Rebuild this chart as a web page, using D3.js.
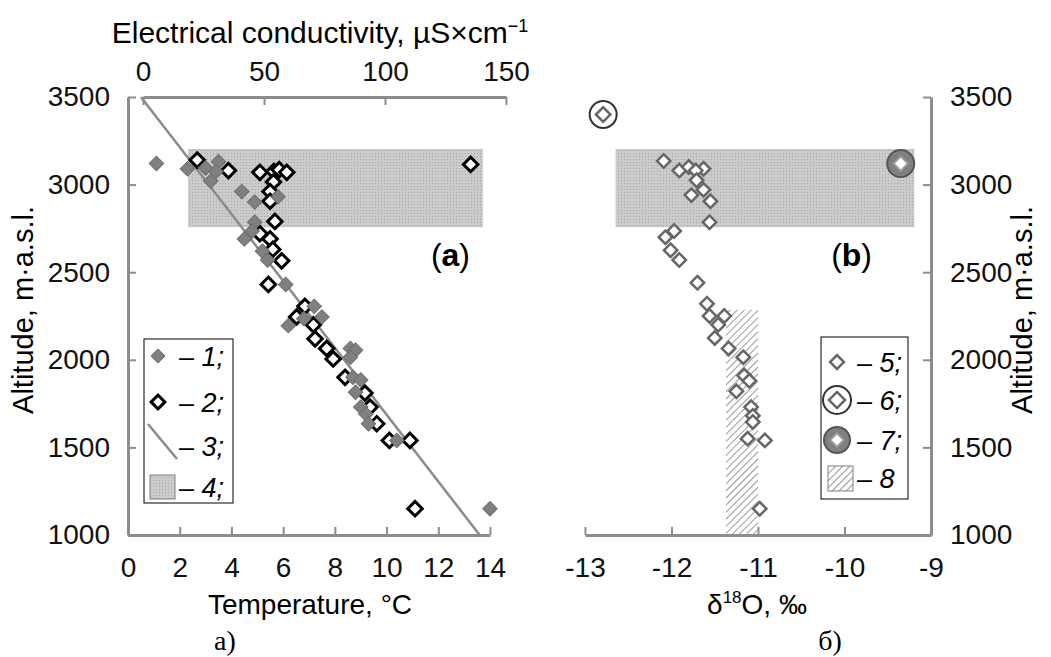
<!DOCTYPE html>
<html>
<head>
<meta charset="utf-8">
<script src="https://cdn.jsdelivr.net/npm/d3@7"></script>
<style>
  html, body { margin: 0; padding: 0; background: #fff; }
  svg { display: block; }
</style>
</head>
<body>
<div class="chart"></div>
<script>
// tick values
const altTicks = [1000, 1500, 2000, 2500, 3000, 3500];
const tempTicks = [0, 2, 4, 6, 8, 10, 12, 14];
const ecTicks = [0, 50, 100, 150];
const d18Ticks = [-13, -12, -11, -10, -9];

// 1 - water temperature, °C
const tempValues = [1.1, 2.3, 3.0, 3.5, 3.4, 3.2, 4.4, 4.9, 5.8, 4.9, 4.8, 4.5, 5.2, 5.4, 6.1, 7.2, 6.8, 7.5, 6.2, 8.6, 8.8, 8.6, 8.7, 9.0, 8.8, 9.0, 9.2, 9.3, 10.4, 14.0];
const tempAlt = [3120, 3090, 3095, 3130, 3075, 3020, 2960, 2900, 2930, 2785, 2735, 2690, 2620, 2570, 2430, 2305, 2235, 2245, 2195, 2065, 2055, 2015, 1900, 1885, 1815, 1730, 1690, 1635, 1540, 1150];

// 2 - electrical conductivity, µS/cm
const ecValues = [22.4, 35.3, 48.3, 54.1, 56.3, 59.4, 53.9, 52.5, 52.5, 54.5, 48.3, 52.5, 53.6, 57.3, 51.8, 66.9, 63.5, 70.4, 71.1, 75.9, 78.6, 83.5, 91.7, 93.8, 96.6, 101.8, 110.3, 112.4, 135.4];
const ecAlt = [3140, 3080, 3070, 3075, 3085, 3070, 3015, 2960, 2905, 2790, 2720, 2690, 2630, 2565, 2430, 2305, 2245, 2200, 2120, 2065, 2005, 1900, 1810, 1730, 1635, 1540, 1540, 1150, 3115];

// 3 - temperature gradient line
const lineTemp = [0.5, 13.6];
const lineAlt = [3500, 1000];

// 4 - zone
const zoneAlt = [2760, 3200];
const zoneTemp = [2.35, 13.7];
const zoneD18 = [-12.64, -9.2];

// 5 - d18O of water
const d18Values = [-12.09, -11.91, -11.80, -11.63, -11.72, -11.71, -11.63, -11.77, -11.55, -11.56, -11.97, -12.07, -12.01, -11.91, -11.70, -11.59, -11.56, -11.39, -11.46, -11.50, -11.34, -11.17, -11.16, -11.10, -11.25, -11.08, -11.06, -11.06, -11.12, -10.92, -10.98];
const d18Alt = [3135, 3080, 3100, 3090, 3080, 3025, 2970, 2940, 2905, 2785, 2735, 2700, 2625, 2570, 2440, 2320, 2250, 2250, 2200, 2125, 2065, 2015, 1910, 1880, 1820, 1730, 1680, 1645, 1550, 1540, 1150];

// 6 and 7 - single samples
const snowD18 = [-12.79];
const snowAlt = [3400];
const rainD18 = [-9.35];
const rainAlt = [3120];

// 8 - band
const bandD18 = [-11.37, -11.0];
const bandAlt = [1000, 2285];

const FONT = "'Liberation Sans', Arial, sans-serif";
const AXIS = "#8c8c8c";

const svg = d3.select(".chart")
  .append("svg")
  .attr("width", 1051)
  .attr("height", 657)
  .style("font-family", FONT);

// patterns
const defs = svg.append("defs");
const dots = defs.append("pattern")
  .attr("id", "dots")
  .attr("width", 3).attr("height", 3)
  .attr("patternUnits", "userSpaceOnUse");
dots.append("rect").attr("width", 3).attr("height", 3).attr("fill", "#cbcbcb");
dots.append("rect").attr("width", 1).attr("height", 1).attr("fill", "#a9a9a9");

const hatch = defs.append("pattern")
  .attr("id", "hatch")
  .attr("width", 5).attr("height", 5)
  .attr("patternUnits", "userSpaceOnUse")
  .attr("patternTransform", "rotate(45)");
hatch.append("rect").attr("width", 5).attr("height", 5).attr("fill", "#fff");
hatch.append("line").attr("x1", 0).attr("y1", 0).attr("x2", 0).attr("y2", 5)
  .attr("stroke", "#9a9a9a").attr("stroke-width", 2);

// scales
const y = d3.scaleLinear().domain([1000, 3500]).range([535, 97]);
const xT = d3.scaleLinear().domain([0, 14]).range([128, 490]);
const xEC = d3.scaleLinear().domain([0, 150]).range([143, 506]);
const xD = d3.scaleLinear().domain([-13, -9]).range([585, 931]);

// diamonds = rotated squares
const diamond = d3.symbol().type(d3.symbolSquare).size(105);
const openDiamond = d3.symbol().type(d3.symbolSquare).size(90);
const legDiamond = d3.symbol().type(d3.symbolSquare).size(95);
const innerDiamond = d3.symbol().type(d3.symbolSquare).size(105);
const plain = d => String(d);

function styleAxis(g) {
  g.attr("font-family", FONT).attr("font-size", 28);
  g.select(".domain").attr("stroke", AXIS).attr("stroke-width", 3);
  g.selectAll(".tick line").attr("stroke", AXIS).attr("stroke-width", 2);
  g.selectAll(".tick text").attr("fill", "#111");
}

// ---------- panel (a) ----------
svg.append("rect")
  .attr("x", xT(zoneTemp[0]))
  .attr("y", y(zoneAlt[1]))
  .attr("width", xT(zoneTemp[1]) - xT(zoneTemp[0]))
  .attr("height", y(zoneAlt[0]) - y(zoneAlt[1]))
  .attr("fill", "url(#dots)")
  .attr("stroke", "#c4c4c4");

svg.append("g")
  .attr("transform", "translate(128,0)")
  .call(d3.axisLeft(y).tickValues(altTicks).tickFormat(plain).tickSizeInner(-8).tickSizeOuter(0).tickPadding(18))
  .call(styleAxis);

svg.append("g")
  .attr("transform", "translate(0,535)")
  .call(d3.axisBottom(xT).tickValues(tempTicks).tickFormat(plain).tickSizeInner(-8).tickSizeOuter(0).tickPadding(22))
  .call(styleAxis);

svg.append("g")
  .attr("transform", "translate(0,97)")
  .call(d3.axisTop(xEC).tickValues(ecTicks).tickFormat(plain).tickSizeInner(-8).tickSizeOuter(0).tickPadding(16))
  .call(styleAxis);

// gradient line
svg.append("line")
  .attr("x1", xT(lineTemp[0])).attr("y1", y(lineAlt[0]))
  .attr("x2", xT(lineTemp[1])).attr("y2", y(lineAlt[1]))
  .attr("stroke", "#8a8a8a")
  .attr("stroke-width", 2.5);

// conductivity points (open diamonds)
svg.selectAll(".ec")
  .data(ecValues)
  .enter().append("path")
  .attr("d", diamond)
  .attr("transform", (d, i) => `translate(${xEC(d)},${y(ecAlt[i])}) rotate(45)`)
  .attr("fill", "#fff")
  .attr("stroke", "#000")
  .attr("stroke-width", 3);

// temperature points (grey diamonds)
svg.selectAll(".temp")
  .data(tempValues)
  .enter().append("path")
  .attr("d", diamond)
  .attr("transform", (d, i) => `translate(${xT(d)},${y(tempAlt[i])}) rotate(45)`)
  .attr("fill", "#808080")
  .attr("stroke", "#6e6e6e")
  .attr("stroke-width", 1);

// axis titles
svg.append("text")
  .attr("x", 320).attr("y", 43)
  .attr("text-anchor", "middle")
  .attr("font-size", 30)
  .text("Electrical conductivity, µS×cm")
  .append("tspan")
  .attr("dy", -11)
  .attr("font-size", 18)
  .text("−1");

svg.append("text")
  .attr("transform", "translate(33,310) rotate(-90)")
  .attr("text-anchor", "middle")
  .attr("font-size", 29)
  .text("Altitude, m·a.s.l.");

svg.append("text")
  .attr("x", 310).attr("y", 614)
  .attr("text-anchor", "middle")
  .attr("font-size", 28)
  .text("Temperature, °C");

svg.append("text")
  .attr("x", 225).attr("y", 650)
  .attr("text-anchor", "middle")
  .attr("font-family", "'Liberation Serif', 'Times New Roman', serif")
  .attr("font-size", 28)
  .text("а)");

const lblA = svg.append("text")
  .attr("x", 470).attr("y", 266)
  .attr("text-anchor", "end")
  .attr("font-size", 32);
lblA.append("tspan").text("(");
lblA.append("tspan").attr("font-weight", "bold").text("a");
lblA.append("tspan").text(")");

// legend (a)
const legA = svg.append("g");
legA.append("rect")
  .attr("x", 144).attr("y", 339).attr("width", 89).attr("height", 164)
  .attr("fill", "#fff").attr("stroke", "#000").attr("stroke-width", 1);
legA.append("path").attr("d", legDiamond)
  .attr("transform", "translate(158,356) rotate(45)")
  .attr("fill", "#808080").attr("stroke", "#6e6e6e");
legA.append("path").attr("d", legDiamond)
  .attr("transform", "translate(158,402) rotate(45)")
  .attr("fill", "#fff").attr("stroke", "#000").attr("stroke-width", 3);
legA.append("line")
  .attr("x1", 148).attr("y1", 424).attr("x2", 177).attr("y2", 459)
  .attr("stroke", "#8a8a8a").attr("stroke-width", 2.5);
legA.append("rect")
  .attr("x", 150).attr("y", 475).attr("width", 25).attr("height", 24)
  .attr("fill", "url(#dots)").attr("stroke", "#808080");
["1;", "2;", "3;", "4;"].forEach((t, i) => {
  const tx = legA.append("text")
    .attr("x", 179).attr("y", [366, 412, 456, 497][i])
    .attr("font-size", 27);
  tx.append("tspan").text("– ");
  tx.append("tspan").attr("font-style", "italic").text(t);
});

// ---------- panel (b) ----------
svg.append("rect")
  .attr("x", xD(zoneD18[0]))
  .attr("y", y(zoneAlt[1]))
  .attr("width", xD(zoneD18[1]) - xD(zoneD18[0]))
  .attr("height", y(zoneAlt[0]) - y(zoneAlt[1]))
  .attr("fill", "url(#dots)")
  .attr("stroke", "#c4c4c4");

svg.append("rect")
  .attr("x", xD(bandD18[0]))
  .attr("y", y(bandAlt[1]))
  .attr("width", xD(bandD18[1]) - xD(bandD18[0]))
  .attr("height", y(bandAlt[0]) - y(bandAlt[1]))
  .attr("fill", "url(#hatch)");

svg.append("g")
  .attr("transform", "translate(0,535)")
  .call(d3.axisBottom(xD).tickValues(d18Ticks).tickFormat(plain).tickSizeInner(-8).tickSizeOuter(0).tickPadding(22))
  .call(styleAxis);

svg.append("g")
  .attr("transform", "translate(931,0)")
  .call(d3.axisRight(y).tickValues(altTicks).tickFormat(plain).tickSizeInner(-8).tickSizeOuter(0).tickPadding(19))
  .call(styleAxis);

// d18O points
svg.selectAll(".d18")
  .data(d18Values)
  .enter().append("path")
  .attr("d", openDiamond)
  .attr("transform", (d, i) => `translate(${xD(d)},${y(d18Alt[i])}) rotate(45)`)
  .attr("fill", "#fff")
  .attr("stroke", "#666")
  .attr("stroke-width", 2.5);

// 6 - open circle
snowD18.forEach((d, i) => {
  svg.append("circle").attr("cx", xD(d)).attr("cy", y(snowAlt[i])).attr("r", 13.5)
    .attr("fill", "#fff").attr("stroke", "#333").attr("stroke-width", 2);
  svg.append("path").attr("d", innerDiamond)
    .attr("transform", `translate(${xD(d)},${y(snowAlt[i])}) rotate(45)`)
    .attr("fill", "#fff").attr("stroke", "#666").attr("stroke-width", 2.5);
});

// 7 - grey circle
rainD18.forEach((d, i) => {
  svg.append("circle").attr("cx", xD(d)).attr("cy", y(rainAlt[i])).attr("r", 13.5)
    .attr("fill", "#808080").attr("stroke", "#555").attr("stroke-width", 2);
  svg.append("path").attr("d", innerDiamond)
    .attr("transform", `translate(${xD(d)},${y(rainAlt[i])}) rotate(45)`)
    .attr("fill", "#fff").attr("stroke", "#999").attr("stroke-width", 2);
});

svg.append("text")
  .attr("transform", "translate(1032,310) rotate(-90)")
  .attr("text-anchor", "middle")
  .attr("font-size", 29)
  .text("Altitude, m·a.s.l.");

const lblD = svg.append("text")
  .attr("x", 757).attr("y", 614)
  .attr("text-anchor", "middle")
  .attr("font-size", 28);
lblD.append("tspan").text("δ");
lblD.append("tspan").attr("dy", -11).attr("font-size", 17).text("18");
lblD.append("tspan").attr("dy", 11).text("O, ‰");

svg.append("text")
  .attr("x", 830).attr("y", 650)
  .attr("text-anchor", "middle")
  .attr("font-family", "'Liberation Serif', 'Times New Roman', serif")
  .attr("font-size", 28)
  .text("б)");

const lblB = svg.append("text")
  .attr("x", 872).attr("y", 266)
  .attr("text-anchor", "end")
  .attr("font-size", 32);
lblB.append("tspan").text("(");
lblB.append("tspan").attr("font-weight", "bold").text("b");
lblB.append("tspan").text(")");

// legend (b)
const legB = svg.append("g");
legB.append("rect")
  .attr("x", 821).attr("y", 337).attr("width", 87).attr("height", 162)
  .attr("fill", "#fff").attr("stroke", "#000").attr("stroke-width", 1);
legB.append("path").attr("d", legDiamond)
  .attr("transform", "translate(837,362) rotate(45)")
  .attr("fill", "#fff").attr("stroke", "#666").attr("stroke-width", 2.5);
legB.append("circle").attr("cx", 837).attr("cy", 400).attr("r", 14)
  .attr("fill", "#fff").attr("stroke", "#333").attr("stroke-width", 2);
legB.append("path").attr("d", d3.symbol().type(d3.symbolSquare).size(130))
  .attr("transform", "translate(837,400) rotate(45)")
  .attr("fill", "#fff").attr("stroke", "#666").attr("stroke-width", 2.5);
legB.append("circle").attr("cx", 837).attr("cy", 440).attr("r", 13)
  .attr("fill", "#808080").attr("stroke", "#555").attr("stroke-width", 2);
legB.append("path").attr("d", d3.symbol().type(d3.symbolSquare).size(95))
  .attr("transform", "translate(837,440) rotate(45)")
  .attr("fill", "#fff").attr("stroke", "#999").attr("stroke-width", 2);
legB.append("rect")
  .attr("x", 828).attr("y", 466).attr("width", 25).attr("height", 25)
  .attr("fill", "url(#hatch)").attr("stroke", "#808080");
["5;", "6;", "7;", "8"].forEach((t, i) => {
  const tx = legB.append("text")
    .attr("x", 857).attr("y", [372, 410, 450, 488][i])
    .attr("font-size", 27);
  tx.append("tspan").text("– ");
  tx.append("tspan").attr("font-style", "italic").text(t);
});
</script>
</body>
</html>
